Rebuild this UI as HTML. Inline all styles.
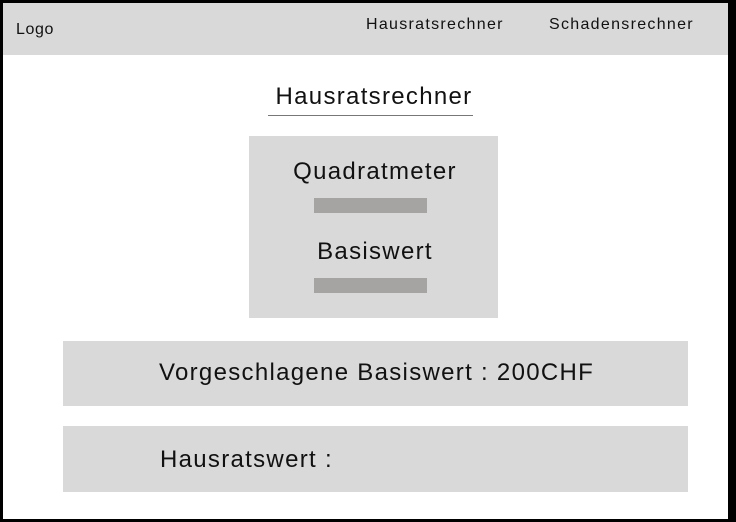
<!DOCTYPE html>
<html><head><meta charset="utf-8"><style>
*{margin:0;padding:0;box-sizing:border-box}
body{width:736px;height:522px;background:#000;position:relative;overflow:hidden;font-family:"Liberation Sans",sans-serif;color:#111}
.a{position:absolute}
.t{position:absolute;white-space:nowrap;line-height:1;letter-spacing:1.3px}
</style></head><body>
<div class="a" style="left:3px;top:3px;width:725px;height:516px;background:#fff"></div>
<div class="a" style="left:3px;top:3px;width:725px;height:52px;background:#d9d9d9"></div>
<div class="t" style="left:16px;top:22px;font-size:16px;letter-spacing:0.6px">Logo</div>
<div class="t" style="left:366px;top:17px;font-size:16px">Hausratsrechner</div>
<div class="t" style="left:549px;top:17px;font-size:16px">Schadensrechner</div>
<div class="t" style="left:260px;width:228px;text-align:center;top:85px;font-size:24px">Hausratsrechner</div>
<div class="a" style="left:268px;top:115px;width:205px;height:1px;background:#777"></div>
<div class="a" style="left:249px;top:136px;width:249px;height:182px;background:#d9d9d9"></div>
<div class="t" style="left:249px;width:252px;text-align:center;top:160px;font-size:24px">Quadratmeter</div>
<div class="a" style="left:314px;top:198px;width:113px;height:15px;background:#a5a4a3"></div>
<div class="t" style="left:249px;width:252px;text-align:center;top:240px;font-size:24px">Basiswert</div>
<div class="a" style="left:314px;top:278px;width:113px;height:15px;background:#a5a4a3"></div>
<div class="a" style="left:63px;top:341px;width:625px;height:65px;background:#d9d9d9"></div>
<div class="t" style="left:159px;top:361px;font-size:24px">Vorgeschlagene Basiswert : 200CHF</div>
<div class="a" style="left:63px;top:426px;width:625px;height:66px;background:#d9d9d9"></div>
<div class="t" style="left:160px;top:448px;font-size:24px">Hausratswert :</div>
</body></html>
